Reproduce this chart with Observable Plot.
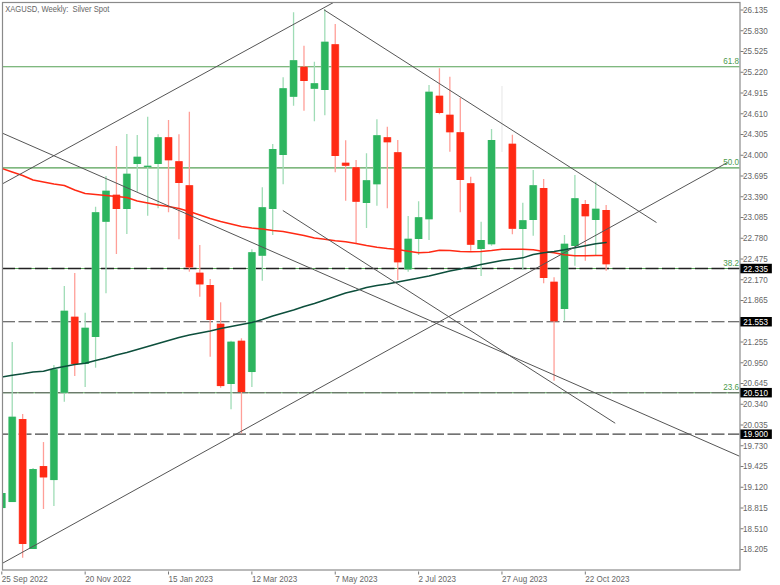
<!DOCTYPE html>
<html><head><meta charset="utf-8">
<script src="https://cdn.jsdelivr.net/npm/d3@7"></script>
<script src="https://cdn.jsdelivr.net/npm/@observablehq/plot@0.6"></script>
<style>html,body{margin:0;padding:0;background:#fff}svg{display:block}</style>
</head><body><div id="chart"></div>
<script>
// weekly candles, in week order
const opens=[18.807,18.895,20.115,18.204,19.424,19.218,20.502,21.619,20.924,21.321,23.016,23.412,23.202,23.864,23.820,23.864,24.256,23.904,23.551,22.266,22.085,21.516,20.630,21.266,20.806,22.516,23.202,23.996,24.853,25.294,24.971,24.952,25.623,23.883,23.815,23.290,23.565,24.256,24.036,22.316,22.761,23.051,24.868,24.589,24.330,23.580,22.615,22.684,24.183,24.162,22.908,23.041,23.511,22.134,21.732,22.658,23.276,23.041,23.188];
const closes=[19.028,20.149,18.278,19.380,19.258,20.846,21.707,20.924,21.457,23.154,23.471,23.202,23.721,23.971,23.839,24.256,23.918,23.585,22.345,22.095,21.571,20.600,21.252,20.512,22.566,23.227,24.084,24.977,25.388,25.084,25.050,25.662,23.982,23.839,23.310,23.624,24.286,24.183,22.419,22.766,23.080,24.927,24.614,24.330,23.629,22.678,22.747,24.217,24.183,22.913,23.036,23.551,22.188,21.552,22.692,23.360,23.095,23.207,22.389];
const highs=[19.100,21.247,20.189,19.395,19.777,20.909,22.070,22.261,21.678,23.236,23.687,24.128,24.305,24.290,24.559,24.300,24.511,24.300,24.633,22.673,22.173,21.831,21.266,21.302,22.610,23.521,24.158,25.138,26.094,25.603,25.368,26.138,25.922,24.212,23.923,24.021,24.521,24.412,24.217,23.100,23.315,25.025,25.271,25.147,24.839,23.677,23.016,24.379,25.010,24.295,23.295,23.776,23.643,22.198,22.820,23.702,23.335,23.604,23.261];
const lows=[18.720,18.895,18.076,18.204,18.792,18.836,20.370,20.748,20.586,20.870,21.963,22.541,22.835,23.457,23.104,23.213,23.154,22.757,22.281,21.913,21.031,20.575,20.258,19.905,20.586,22.148,22.820,23.565,24.721,24.647,24.491,24.580,23.742,23.325,22.698,22.923,23.251,23.213,22.159,22.281,22.526,22.747,24.595,24.045,23.154,22.590,22.218,22.663,24.040,22.830,22.306,22.810,22.110,20.678,21.560,22.369,22.442,22.526,22.295];
const redMA=[23.805,23.754,23.702,23.636,23.607,23.577,23.555,23.489,23.438,23.423,23.408,23.393,23.379,23.327,23.298,23.268,23.246,23.217,23.173,23.122,23.070,23.026,22.989,22.952,22.930,22.916,22.893,22.879,22.849,22.820,22.783,22.766,22.742,22.727,22.703,22.673,22.648,22.629,22.614,22.589,22.566,22.575,22.604,22.600,22.585,22.581,22.585,22.600,22.619,22.619,22.619,22.610,22.585,22.566,22.536,22.522,22.522,22.526,22.526];
const greenMA=[20.740,20.767,20.787,20.813,20.825,20.865,20.895,20.924,20.943,20.983,21.019,21.064,21.100,21.144,21.189,21.233,21.277,21.321,21.358,21.387,21.416,21.453,21.483,21.512,21.541,21.586,21.637,21.681,21.725,21.776,21.820,21.872,21.923,21.975,22.012,22.056,22.085,22.107,22.137,22.166,22.195,22.225,22.262,22.298,22.328,22.357,22.394,22.423,22.453,22.472,22.492,22.541,22.566,22.585,22.610,22.639,22.669,22.698,22.717];
const weeks=opens.map((_,i)=>i);
// trendlines: [week, price, week, price]
const trendlines=[
  [0.067,23.580,31.83,26.245],
  [30.92,26.138,62.83,23.011],
  [0.067,24.324,70.8,19.576],
  [26.97,23.188,58.87,20.061],
  [0.067,18.003,69.64,23.893]
];
const fibLevels=[25.300,23.815,22.335,20.510];
const fibLabels=["61.8","50.0","38.2","23.6"];
const levels=[22.335,21.553,20.510,19.900];
const levelLabels=["22.335","21.553","20.510","19.900"];
const yTicks=[26.135,25.830,25.525,25.220,24.915,24.610,24.305,24.000,23.695,23.390,23.085,22.780,22.475,22.170,21.865,21.255,20.950,20.645,20.340,20.035,19.730,19.425,19.120,18.815,18.510,18.205];
const xTicks=[0,8,16,24,32,40,48,56];
const xLabels=["25 Sep 2022","20 Nov 2022","15 Jan 2023","12 Mar 2023","7 May 2023","2 Jul 2023","27 Aug 2023","22 Oct 2023"];

const candles=weeks.map(i=>({i,o:opens[i],c:closes[i],h:highs[i],l:lows[i],d:closes[i]>opens[i]?"up":closes[i]<opens[i]?"down":"flat"}));
const segs=trendlines.map(([x1,y1,x2,y2])=>({x1,y1,x2,y2}));
const col={up:"#2db55f",down:"#ff2a14",flat:"#f0f0f0"};
const wick={up:"#9fdcb6",down:"#ff9f98",flat:"#ececec"};
const edge={up:"#8fd6aa",down:"#ff8a80",flat:"#f0f0f0"};
const FF="'Liberation Sans',Arial,sans-serif";
const TITLE="XAGUSD, Weekly:  Silver Spot";

const chart=Plot.plot({
  width:780,height:585,
  marginLeft:2,marginRight:40.5,marginTop:2,marginBottom:15.5,
  style:{fontFamily:FF,fontSize:"9.3px",background:"#fff",color:"#777"},
  x:{type:"linear",domain:[0,58],range:[1.3,605.66],axis:null},
  y:{type:"linear",domain:[18.205,26.135],range:[549,9.5],axis:null},
  marks:[
    Plot.ruleY(fibLevels,{stroke:"#55a055",strokeWidth:1.1}),
    Plot.ruleY([22.335],{stroke:"#222",strokeWidth:1.5,strokeDasharray:"13,3.5"}),
    Plot.ruleY([21.553,19.900],{stroke:"#444",strokeWidth:1.2,strokeDasharray:"13,3.5"}),
    Plot.ruleY([20.510],{stroke:"#666",strokeWidth:1.1,strokeDasharray:"15,1.5"}),
    Plot.ruleX(candles,{x:"i",y1:"l",y2:"h",stroke:d=>wick[d.d],strokeWidth:1.3,clip:true}),
    Plot.ruleX(candles,{x:"i",y1:"o",y2:"c",stroke:d=>edge[d.d],strokeWidth:8,clip:true}),
    Plot.ruleX(candles,{x:"i",y1:"o",y2:"c",stroke:d=>col[d.d],strokeWidth:7,clip:true}),
    Plot.line(weeks,{x:d=>d,y:d=>redMA[d],stroke:"#ff2a14",strokeWidth:1.5,clip:true,curve:"linear"}),
    Plot.line(weeks,{x:d=>d,y:d=>greenMA[d],stroke:"#0d4f3c",strokeWidth:1.5,clip:true,curve:"linear"}),
    Plot.link(segs,{x1:"x1",y1:"y1",x2:"x2",y2:"y2",stroke:"#555",strokeWidth:1,clip:true}),
    Plot.frame({stroke:"#8a8a8a",strokeWidth:1.2}),
    Plot.axisY(yTicks,{anchor:"right",label:null,tickSize:3,tickPadding:0,stroke:"#777",fill:"#666",tickFormat:d=>d.toFixed(3)}),
    Plot.axisX(xTicks,{anchor:"bottom",label:null,tickSize:3,tickPadding:0,stroke:"#777",fill:"#666",textAnchor:"start",lineAnchor:"top",dy:2,tickFormat:d=>xLabels[xTicks.indexOf(d)]}),
    Plot.text(fibLevels,{x:()=>70.75,y:d=>d,text:(d,i)=>fibLabels[i],textAnchor:"end",dy:-5.5,fill:"#4c9a4c",fontSize:9.3}),
    Plot.ruleY(levels,{x1:()=>70.93,x2:()=>73.95,stroke:"#000",strokeWidth:9.5,clip:false}),
    Plot.text(levels,{x:()=>71.15,y:d=>d,text:(d,i)=>levelLabels[i],textAnchor:"start",fill:"#fff",fontSize:9.3}),
    Plot.text([TITLE],{x:()=>0.32,y:()=>26.14,textAnchor:"start",fill:"#666",fontSize:9.5,dy:-1})
  ]
});
document.getElementById("chart").appendChild(chart);
// the reference's font is narrower than any installed one: condense the glyphs to its widths
chart.querySelectorAll("text").forEach(t=>{
  const k=t.textContent===TITLE?0.8:0.87;
  t.setAttribute("textLength",(t.getComputedTextLength()*k).toFixed(1));
  t.setAttribute("lengthAdjust","spacingAndGlyphs");
});
</script></body></html>
